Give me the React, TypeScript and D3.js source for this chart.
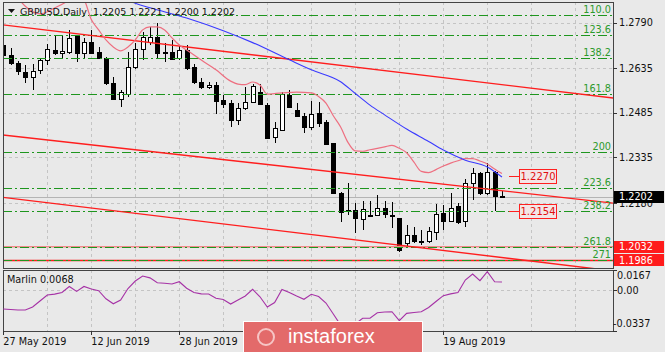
import React from 'react';
import * as d3 from 'd3';

// GBPUSD daily bars, 27 May 2019 .. 29 Aug 2019 (bar index 0..68)
const opens = [1.2714,1.2680,1.2652,1.2624,1.2607,1.2630,1.2663,1.2697,1.2686,1.2691,1.2745,1.2686,1.2723,1.2689,1.2671,1.2585,1.2532,1.2548,1.2639,1.2700,1.2725,1.2742,1.2691,1.2690,1.2669,1.2697,1.2641,1.2590,1.2571,1.2579,1.2528,1.2517,1.2461,1.2500,1.2520,1.2556,1.2511,1.2404,1.2427,1.2545,1.2494,1.2474,1.2436,1.2483,1.2455,1.2382,1.2215,1.2157,1.2157,1.2125,1.2138,1.2140,1.2162,1.2138,1.2129,1.2044,1.2072,1.2053,1.2053,1.2083,1.2145,1.2120,1.2170,1.2120,1.2249,1.2283,1.2215,1.2286,1.2205];
const highs = [1.2721,1.2705,1.2660,1.2646,1.2649,1.2671,1.2716,1.2748,1.2748,1.2765,1.2748,1.2739,1.2765,1.2708,1.2674,1.2607,1.2562,1.2689,1.2722,1.2759,1.2776,1.2787,1.2720,1.2731,1.2711,1.2714,1.2650,1.2601,1.2590,1.2590,1.2545,1.2528,1.2517,1.2573,1.2582,1.2582,1.2517,1.2455,1.2556,1.2562,1.2517,1.2483,1.2526,1.2522,1.2461,1.2384,1.2218,1.2249,1.2179,1.2188,1.2188,1.2207,1.2188,1.2185,1.2130,1.2106,1.2098,1.2090,1.2098,1.2178,1.2173,1.2213,1.2180,1.2262,1.2297,1.2285,1.2315,1.2288,1.2221];
const lows = [1.2673,1.2646,1.2613,1.2585,1.2562,1.2615,1.2646,1.2680,1.2669,1.2683,1.2658,1.2669,1.2683,1.2669,1.2579,1.2528,1.2506,1.2539,1.2633,1.2663,1.2714,1.2670,1.2657,1.2663,1.2663,1.2629,1.2582,1.2564,1.2564,1.2481,1.2500,1.2438,1.2444,1.2494,1.2517,1.2511,1.2397,1.2382,1.2424,1.2500,1.2472,1.2418,1.2427,1.2438,1.2376,1.2211,1.2117,1.2140,1.2078,1.2089,1.2132,1.2136,1.2129,1.2095,1.2016,1.2033,1.2044,1.2038,1.2044,1.2055,1.2090,1.2117,1.2108,1.2100,1.2190,1.2206,1.2208,1.2154,1.2200];
const closes = [1.2680,1.2652,1.2626,1.2607,1.2627,1.2663,1.2699,1.2686,1.2694,1.2739,1.2686,1.2723,1.2686,1.2671,1.2585,1.2532,1.2554,1.2641,1.2700,1.2741,1.2740,1.2688,1.2686,1.2667,1.2697,1.2636,1.2590,1.2571,1.2579,1.2526,1.2515,1.2461,1.2500,1.2522,1.2575,1.2515,1.2399,1.2433,1.2548,1.2504,1.2474,1.2436,1.2481,1.2451,1.2380,1.2213,1.2151,1.2152,1.2129,1.2159,1.2135,1.2162,1.2143,1.2135,1.2021,1.2072,1.2053,1.2050,1.2087,1.2143,1.2120,1.2164,1.2117,1.2249,1.2283,1.2213,1.2286,1.2204,1.2202];

// pink envelope line [bar, price]
const pinkLine: [number, number][] = [[2,1.2872],[3,1.2845],[5,1.2819],[7,1.2839],[9,1.2866],[10,1.2885],[11,1.2868],[12,1.2800],[13,1.2765],[14,1.2731],[15,1.2707],[16,1.2694],[17,1.2707],[18,1.2731],[19,1.2765],[20,1.2775],[21,1.2775],[22,1.2765],[23,1.2738],[24,1.2714],[25,1.2697],[26,1.2680],[27,1.2663],[29,1.2630],[31,1.2592],[32,1.2582],[33,1.2580],[34,1.2589],[35,1.2579],[36,1.2548],[37,1.2550],[38,1.2552],[40,1.2555],[42,1.2552],[43,1.2540],[44,1.2518],[45,1.2475],[46,1.2437],[47,1.2385],[48,1.2356],[49,1.2355],[50,1.2360],[51,1.2365],[52,1.2370],[53,1.2375],[54,1.2365],[55,1.2350],[56,1.2318],[57,1.2287],[58,1.2283],[59,1.2293],[60,1.2305],[61,1.2315],[62,1.2323],[63,1.2330],[64,1.2330],[65,1.2322],[66,1.2312],[67,1.2295],[68,1.2280]];
// blue moving average [bar, price]
const blueLine: [number, number][] = [[16,1.2880],[18,1.2855],[20,1.2840],[25,1.2805],[30,1.2762],[34,1.2722],[39,1.2664],[42,1.2630],[46,1.2590],[48,1.2550],[50,1.2511],[52,1.2478],[55,1.2430],[58,1.2388],[60,1.2359],[63,1.2325],[66,1.2302],[68,1.2268]];

// red trend lines, two anchors each [bar, price]
const trendLines: [number, number][][] = [
  [[0, 1.2782], [83.1, 1.2535]],
  [[0, 1.2410], [83.1, 1.2180]],
  [[0, 1.2199], [77.7, 1.1967]],
];

const fibNames = ['110.0', '123.6', '138.2', '161.8', '200', '223.6', '238.2', '261.8', '271'];
const fibPrices = [1.2817, 1.2747, 1.2671, 1.2549, 1.2352, 1.2230, 1.2154, 1.2032, 1.1986];

const priceTicks = [1.2790, 1.2635, 1.2485, 1.2335, 1.2180];
// 16 Jul and 1 Aug ticks sit under the watermark, only their tick marks show
const dateLabels = ['27 May 2019', '12 Jun 2019', '28 Jun 2019', '', '', '19 Aug 2019'];
const dateBars = [0, 12, 24, 36, 48, 60];

// Marlin oscillator, one value per bar
const marlin = [-0.0155,-0.0159,-0.0163,-0.0163,-0.0139,-0.0089,-0.0040,-0.0032,-0.0019,0.0031,-0.0010,0.0031,0.0010,-0.0004,-0.0071,-0.0112,-0.0081,0.0014,0.0076,0.0117,0.0102,0.0061,0.0057,0.0051,0.0070,0.0016,-0.0019,-0.0030,-0.0031,-0.0066,-0.0077,-0.0114,-0.0081,-0.0048,0.0007,-0.0054,-0.0139,-0.0102,0.0006,-0.0019,-0.0048,-0.0075,-0.0034,-0.0052,-0.0106,-0.0197,-0.0288,-0.0337,-0.0279,-0.0232,-0.0232,-0.0186,-0.0180,-0.0178,-0.0252,-0.0191,-0.0184,-0.0178,-0.0143,-0.0093,-0.0045,-0.0030,-0.0019,0.0084,0.0134,0.0079,0.0153,0.0070,0.0068];
const marlinTicks = [0.0167, 0.00, -0.0337];
const marlinTickText = ['0.0167', '0.00', '-0.0337'];

const W = 665, H = 352;
const L = 3, R = 613, T = 2, B = 268;
const IT = 270, IB = 331;
const FONT = 'DejaVu Sans';

export default function App() {
  const x = d3.scaleLinear().domain([0, 60]).range([3.3, 443.3]);
  const y = d3.scaleLinear().domain([1.2790, 1.2180]).range([22.5, 203.06]);
  const yi = d3.scaleLinear().domain([-0.0337, 0.0167]).range([IB, IT]);

  const curve = d3.line<[number, number]>().x(d => x(d[0])).y(d => y(d[1])).curve(d3.curveMonotoneX);
  const marlinPath = d3.line<number>().x((_, i) => x(i)).y(d => yi(d))(marlin) || '';

  const vGrid = d3.range(6, 84, 6);
  const px = (v: number) => Math.round(v) + 0.5;

  return (
    <svg width={W} height={H} style={{ position: 'absolute', left: 0, top: 0 }} fontFamily={FONT}>
      <defs>
        <clipPath id="main"><rect x={L} y={T} width={R - L} height={B - T} /></clipPath>
        <clipPath id="ind"><rect x={L} y={IT} width={R - L} height={IB - IT} /></clipPath>
      </defs>
      <rect width={W} height={H} fill="#e9e9e9" />

      {/* grid */}
      <g stroke="#c4c4c4" strokeDasharray="3,3">
        {vGrid.map(b => (
          <g key={b}>
            <line x1={px(x(b))} x2={px(x(b))} y1={T} y2={B} />
            <line x1={px(x(b))} x2={px(x(b))} y1={IT} y2={IB} />
          </g>
        ))}
        {priceTicks.map(p => <line key={p} x1={L} x2={R} y1={px(y(p))} y2={px(y(p))} />)}
        <line x1={L} x2={R} y1={px(yi(0))} y2={px(yi(0))} />
      </g>

      <g clipPath="url(#main)">
        {/* bid line */}
        <line x1={L} x2={R} y1={px(y(closes[68]))} y2={px(y(closes[68]))} stroke="#b4b4b4" />
        {/* candles */}
        {opens.map((o, i) => {
          const c = closes[i];
          const cx = px(x(i));
          const top = Math.round(y(Math.max(o, c)));
          const bot = Math.round(y(Math.min(o, c)));
          const up = c > o;
          return (
            <g key={i}>
              <line x1={cx} x2={cx} y1={Math.round(y(highs[i]))} y2={Math.round(y(lows[i]))} stroke="#000" />
              <rect x={cx - 2} y={top + 0.5} width={4} height={Math.max(1, bot - top)} fill={up ? '#fff' : '#000'} stroke="#000" />
            </g>
          );
        })}
        {/* horizontal level lines */}
        <line x1={L} x2={R} y1={y(1.2032)} y2={y(1.2032)} stroke="#f08a8a" strokeWidth={1.5} />
        <line x1={L} x2={R} y1={y(1.1986)} y2={y(1.1986)} stroke="#ff1a1a" strokeWidth={1.3} />
        {/* fibonacci levels */}
        {fibPrices.map((p, i) => (
          <line key={i} x1={L} x2={R} y1={px(y(p))} y2={px(y(p))} stroke="#1e961e" strokeDasharray="9,3,2,3" />
        ))}
        {/* trend lines */}
        {trendLines.map((t, i) => {
          const k = (t[1][1] - t[0][1]) / (t[1][0] - t[0][0]);
          const b0 = -1, b1 = 84;
          return (
            <line key={i} x1={x(b0)} y1={y(t[0][1] + k * (b0 - t[0][0]))} x2={x(b1)} y2={y(t[0][1] + k * (b1 - t[0][0]))}
              stroke="#ff1e1e" strokeWidth={1.4} />
          );
        })}
        <path d={curve(pinkLine) || ''} fill="none" stroke="#ee6f80" strokeWidth={1.2} />
        <path d={curve(blueLine) || ''} fill="none" stroke="#3a3aff" strokeWidth={1.1} />
        {/* price labels */}
        {[1.2270, 1.2154].map(p => (
          <g key={p}>
            <line x1={509} x2={519} y1={px(y(p))} y2={px(y(p))} stroke="#ff2020" />
            <rect x={519.5} y={px(y(p)) - 7} width={37} height={14} fill="#f3e6e6" stroke="#ff2020" />
            <text x={538} y={y(p) + 4} textAnchor="middle" fontSize={10} fill="#e01010">{p.toFixed(4)}</text>
          </g>
        ))}
      </g>

      {/* fib labels */}
      {fibPrices.map((p, i) => (
        <text key={i} x={611} y={y(p) - 2} textAnchor="end" fontSize={9.7} fill="#2c9a2c">{fibNames[i]}</text>
      ))}

      {/* title */}
      <path d="M8,9 L15,9 L11.5,13 Z" fill="#111" />
      <text x={20} y={15} fontSize={9.5} fill="#111" style={{ whiteSpace: 'pre' }}>{'GBPUSD,Daily  1.2205 1.2221 1.2200 1.2202'}</text>

      {/* frames */}
      <rect x={L + 0.5} y={T + 0.5} width={R - L} height={B - T} fill="none" stroke="#444" />
      <rect x={L + 0.5} y={IT + 0.5} width={R - L} height={IB - IT} fill="none" stroke="#444" />

      {/* price axis */}
      {priceTicks.map(p => (
        <g key={p}>
          <line x1={R} x2={R + 4} y1={px(y(p))} y2={px(y(p))} stroke="#333" />
          <text x={619} y={y(p) + 3.5} fontSize={9.7} fill="#111">{p.toFixed(4)}</text>
        </g>
      ))}
      {[
        { p: closes[68], fill: '#000', t: '1.2202' },
        { p: 1.2032, fill: '#ff1c1c', t: '1.2032' },
        { p: 1.1986, fill: '#ff1c1c', t: '1.1986' },
      ].map(d => (
        <g key={d.t}>
          <rect x={614} y={Math.round(y(d.p)) - 6} width={50} height={12} fill={d.fill} />
          <text x={619} y={y(d.p) + 3.5} fontSize={9.7} fill="#fff">{d.t}</text>
        </g>
      ))}

      {/* indicator */}
      <g clipPath="url(#ind)">
        <path d={marlinPath} fill="none" stroke="#a632a6" strokeWidth={1.1} />
      </g>
      <text x={7} y={283} fontSize={9.7} fill="#111">Marlin 0.0068</text>
      {marlinTicks.map((v, i) => (
        <g key={i}>
          <line x1={R} x2={R + 4} y1={px(yi(v))} y2={px(yi(v))} stroke="#333" />
          <text x={v < 0 ? 613 : 617} y={i === 0 ? yi(v) + 9 : i === 2 ? yi(v) - 4 : yi(v) + 3.5} fontSize={9.7} fill="#111">{marlinTickText[i]}</text>
        </g>
      ))}

      {/* time axis */}
      {dateBars.map((b, i) => (
        <g key={b}>
          <line x1={px(x(b))} x2={px(x(b))} y1={IB} y2={IB + 4} stroke="#333" />
          {dateLabels[i] && <text x={x(b)} y={345} fontSize={9.7} fill="#111">{dateLabels[i]}</text>}
        </g>
      ))}

      {/* watermark */}
      <rect x={243.5} y={321.5} width={179} height={31} fill="#e36a6a" stroke="#fff" strokeWidth={1} />
      <circle cx={266} cy={337} r={8} fill="none" stroke="#f6c5c5" strokeWidth={2} />
      <text x={288} y={343} fontSize={20} fill="#fff" fontFamily="Liberation Sans">instaforex</text>
    </svg>
  );
}
